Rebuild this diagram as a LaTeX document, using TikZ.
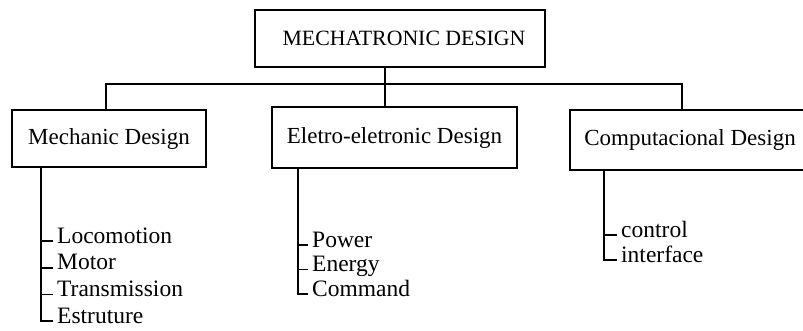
\documentclass[tikz,border=0pt]{standalone}
\usepackage{fontspec}
\setmainfont{Liberation Serif}
\tikzset{
  designbox/.style={draw, line width=1.8pt, inner sep=0pt, font=\fontsize{23}{27}\selectfont},
  part/.style={anchor=base west, inner xsep=4pt, inner ysep=0pt, font=\fontsize{23.5}{27}\selectfont},
  wire/.style={line width=1.8pt},
}
\begin{document}
\begin{tikzpicture}[x=1pt,y=-1pt]
	\useasboundingbox (0,0) rectangle (803,330);
	
	% boxes
	\node[designbox, font=\fontsize{21.8}{25}\selectfont, minimum width=290pt, minimum height=57pt] (mecha) at (400,38.5) {\hspace{8pt}MECHATRONIC DESIGN};
	\node[designbox, minimum width=194pt, minimum height=57pt] (mechanic) at (109,138.5) {Mechanic Design\hspace{10pt}};
	\node[designbox, minimum width=245pt, minimum height=61pt] (eletro) at (394.5,137.5) {Eletro-eletronic Design};
	\node[designbox, minimum width=236pt, minimum height=60pt] (comput) at (688,140) {\hspace{4pt}Computacional Design};
	
	% tree
	\coordinate (split) at (385,84);
	\draw[wire] (mecha.south -| split) -- (eletro.north -| split);
	\draw[wire] ([xshift=-3pt]mechanic.north) |- (split) -| ([xshift=-6pt]comput.north);
	
	% parts
	\coordinate (mectrunk) at (41,0);
	\coordinate (eletrunk) at (298,0);
	\coordinate (comtrunk) at (604,0);
	\foreach \name [count=\i] in {Locomotion,Motor,Transmission,Estruture}
	{
	\node[part] (mec\i) at (53,243+26.7*\i-26.7) {\name};
	}
	\foreach \name [count=\i] in {Power,Energy,Command}
	{
	\node[part] (ele\i) at (308,247+24.5*\i-24.5) {\name};
	}
	\foreach \name [count=\i] in {control,interface}
	{
	\node[part] (com\i) at (617,237+25*\i-25) {\name};
	}
	
	\draw[wire] (mechanic.south -| mectrunk) |- ([yshift=2pt]mec4.base west);
	\draw[wire] (eletro.south -| eletrunk) |- ([yshift=2pt]ele3.base west);
	\draw[wire] (comput.south -| comtrunk) |- ([yshift=2pt]com2.base west);
	\foreach \i in {1,2,3}
	{
	\draw[wire] ([yshift=2pt]mec\i.base west -| mectrunk) -- ([yshift=2pt]mec\i.base west);
	}
	\foreach \i in {1,2}
	{
	\draw[wire] ([yshift=2pt]ele\i.base west -| eletrunk) -- ([yshift=2pt]ele\i.base west);
	}
	\draw[wire] ([yshift=2pt]com1.base west -| comtrunk) -- ([yshift=2pt]com1.base west);
\end{tikzpicture}
\end{document}
